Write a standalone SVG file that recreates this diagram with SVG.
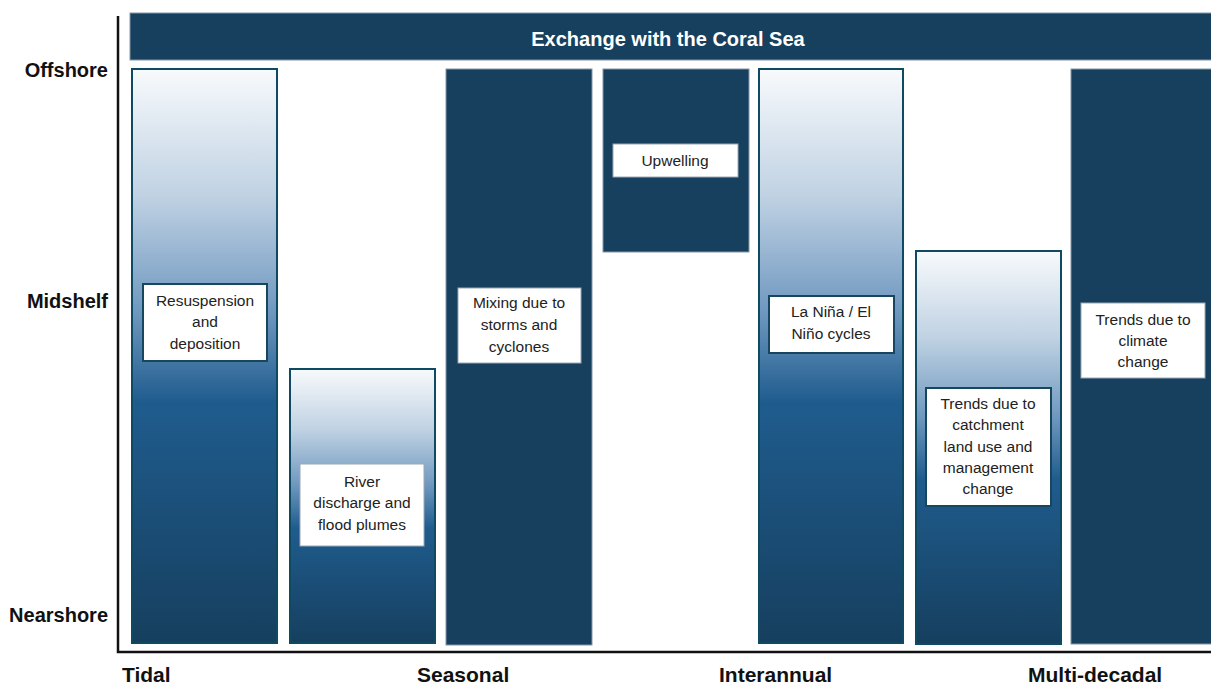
<svg xmlns="http://www.w3.org/2000/svg" width="1211" height="684" viewBox="0 0 1211 684">
<defs>
<linearGradient id="g" x1="0" y1="0" x2="0" y2="1">
<stop offset="0" stop-color="#f8fafc"/>
<stop offset="0.22" stop-color="#c0d2e3"/>
<stop offset="0.42" stop-color="#7099c0"/>
<stop offset="0.58" stop-color="#1f5c8e"/>
<stop offset="1" stop-color="#163f5e"/>
</linearGradient>
</defs>
<style>
.gbar{fill:url(#g);stroke:#0f4a63;stroke-width:2}
.sbar{fill:#17405f;stroke:#8496a6;stroke-width:1}
.lbl{fill:#ffffff;stroke:#17465f;stroke-width:2}
.lbl2{fill:#ffffff;stroke:#9aa8b4;stroke-width:1}
.t{font-family:"Liberation Sans",Arial,sans-serif;font-size:15.5px;fill:#222222;text-anchor:middle}
.ax{font-family:"Liberation Sans",Arial,sans-serif;font-size:20px;font-weight:bold;fill:#111111}
.axis{stroke:#111111;stroke-width:2.5;fill:none}
</style>
<g id="axes">
<path class="axis" d="M118,16 V652 H1211"/>
<text class="ax" x="108" y="77" text-anchor="end">Offshore</text>
<text class="ax" x="108" y="308" text-anchor="end">Midshelf</text>
<text class="ax" x="108" y="622" text-anchor="end">Nearshore</text>
<text class="ax" x="122" y="682" style="font-size:21px">Tidal</text>
<text class="ax" x="417" y="682" style="font-size:21px">Seasonal</text>
<text class="ax" x="719" y="682" style="font-size:21px">Interannual</text>
<text class="ax" x="1028" y="682" style="font-size:21px">Multi-decadal</text>
</g>
<g id="banner">
<rect class="sbar" x="130" y="13" width="1082" height="47"/>
<text x="668" y="46" font-family="Liberation Sans,Arial,sans-serif" font-size="20" font-weight="bold" fill="#ffffff" text-anchor="middle">Exchange with the Coral Sea</text>
</g>
<g id="tidal">
<rect class="gbar" x="132" y="69" width="145" height="574"/>
<rect class="lbl" x="143" y="284" width="124" height="77"/>
<text class="t" x="205" y="306">Resuspension</text>
<text class="t" x="205" y="327">and</text>
<text class="t" x="205" y="349">deposition</text>
</g>
<g id="river">
<rect class="gbar" x="290" y="369" width="145" height="274"/>
<rect class="lbl2" x="300" y="464" width="124" height="82"/>
<text class="t" x="362" y="487">River</text>
<text class="t" x="362" y="508">discharge and</text>
<text class="t" x="362" y="530">flood plumes</text>
</g>
<g id="mixing">
<rect class="sbar" x="446" y="69" width="146" height="576"/>
<rect class="lbl2" x="458" y="288" width="123" height="75"/>
<text class="t" x="519" y="308">Mixing due to</text>
<text class="t" x="519" y="330">storms and</text>
<text class="t" x="519" y="352">cyclones</text>
</g>
<g id="upwelling">
<rect class="sbar" x="603" y="69" width="146" height="183"/>
<rect class="lbl2" x="613" y="144" width="125" height="33"/>
<text class="t" x="675" y="166">Upwelling</text>
</g>
<g id="enso">
<rect class="gbar" x="759" y="69" width="144" height="574"/>
<rect class="lbl" x="769" y="296" width="125" height="57"/>
<text class="t" x="831" y="317">La Niña / El</text>
<text class="t" x="831" y="339">Niño cycles</text>
</g>
<g id="catchment">
<rect class="gbar" x="916" y="251" width="145" height="393"/>
<rect class="lbl" x="926" y="388" width="125" height="118"/>
<text class="t" x="988" y="409">Trends due to</text>
<text class="t" x="988" y="430">catchment</text>
<text class="t" x="988" y="452">land use and</text>
<text class="t" x="988" y="473">management</text>
<text class="t" x="988" y="494">change</text>
</g>
<g id="climate">
<rect class="sbar" x="1071" y="69" width="141" height="575"/>
<rect class="lbl2" x="1081" y="303" width="124" height="75"/>
<text class="t" x="1143" y="325">Trends due to</text>
<text class="t" x="1143" y="346">climate</text>
<text class="t" x="1143" y="367">change</text>
</g>
<g id="connectors"></g>
</svg>
